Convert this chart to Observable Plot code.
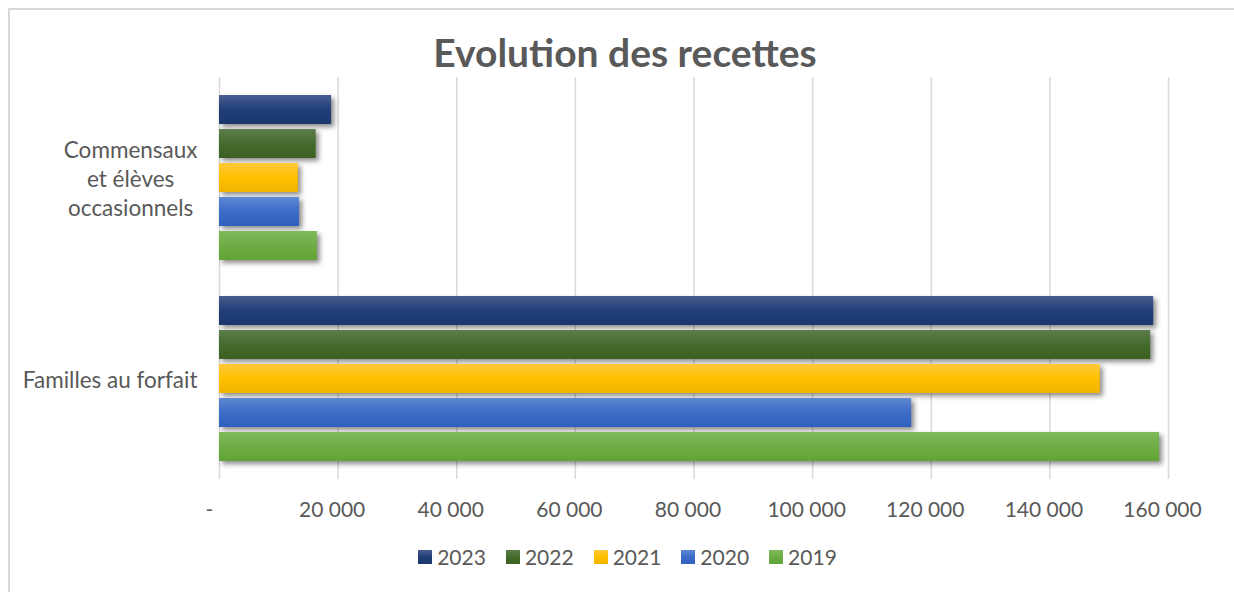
<!DOCTYPE html>
<html>
<head>
<meta charset="utf-8">
<script src="https://cdn.jsdelivr.net/npm/d3@7"></script>
<script src="https://cdn.jsdelivr.net/npm/@observablehq/plot@0.6"></script>
<style>
  html, body { margin: 0; padding: 0; background: #fff; overflow: hidden; width: 1234px; height: 592px; }
  body { font-family: Lato, "Open Sans", sans-serif; color: #595959; position: relative; }
  #frame { position: absolute; left: 8px; top: 8px; width: 1400px; height: 800px; border-left: 2px solid #d9d9d9; border-top: 2px solid #d9d9d9; box-sizing: border-box; pointer-events: none; }
  #title { box-sizing: border-box; height: 70px; padding-top: 34px; padding-left: 16px; text-align: center; font-size: 39px; line-height: 36px; font-weight: bold; color: #595959; white-space: nowrap; }
  #chart { height: 462px; }
  #chart svg { display: block; }
  #legend { box-sizing: border-box; height: 50px; padding-left: 21px; display: flex; justify-content: center; align-items: center; }
  .item { display: flex; align-items: center; margin: 0 10px; font-size: 21px; line-height: 24px; }
  .sw { width: 14px; height: 14px; margin-right: 5px; }
</style>
</head>
<body>
<div id="frame"></div>
<div id="title">Evolution des recettes</div>
<div id="chart"></div>
<div id="legend"></div>
<script>
// ---- data ----
const categories = ["Commensaux\net élèves\noccasionnels", "Familles au forfait"];
const years = ["2023", "2022", "2021", "2020", "2019"];
const commensaux = [18900, 16300, 13300, 13500, 16500];
const familles = [157500, 157000, 148500, 116700, 158500];
const xTicks = [0, 20000, 40000, 60000, 80000, 100000, 120000, 140000, 160000];
const gradients = {
  "2023": ["#4a5d90", "#203f78", "#1b376c"],
  "2022": ["#5e7d4c", "#446b2c", "#3c6022"],
  "2021": ["#ffc83a", "#ffc000", "#f0b400"],
  "2020": ["#5f88d4", "#3c6cc6", "#2f60bd"],
  "2019": ["#80ba5c", "#6dad43", "#62a338"]
};

const data = [];
years.forEach((y, i) => {
  data.push({cat: categories[0], year: y, value: commensaux[i]});
  data.push({cat: categories[1], year: y, value: familles[i]});
});

const fmt = d => d === 0 ? "-" : d3.format(",")(d).replace(/,/g, " ");
const axisStyle = {tickFormat: fmt, tickSize: 0, tickPadding: 23, fontSize: 21, fill: "#595959", label: null};

const plot = Plot.plot({
  width: 1234,
  height: 462,
  marginLeft: 219,
  marginRight: 66,
  marginTop: 6,
  marginBottom: 53,
  style: {fontFamily: "Lato, 'Open Sans', sans-serif", fontSize: "21px", color: "#595959", background: "transparent"},
  x: {domain: [0, 160000], axis: null},
  y: {domain: years, paddingInner: 0.138, paddingOuter: 0.461, axis: null},
  fy: {domain: categories, padding: 0, axis: null},
  color: {type: "ordinal", domain: years, range: years.map(y => `url(#g${y})`)},
  marks: [
    Plot.gridX(xTicks, {stroke: "#d9d9d9", strokeOpacity: 1, strokeWidth: 1.5}),
    Plot.barX(data, {x: "value", y: "year", fy: "cat", fill: "year"}),
    Plot.axisX({...axisStyle, ticks: xTicks.slice(0, 1), dx: -10}),
    Plot.axisX({...axisStyle, ticks: xTicks.slice(1), dx: -6}),
    Plot.axisFy({anchor: "left", tickSize: 0, tickPadding: 22, fontSize: 22.5, fill: "#595959", lineHeight: 1.29, label: null})
  ]
});
document.getElementById("chart").appendChild(plot);

// gradients
const svg = d3.select(plot);
const defs = svg.insert("defs", ":first-child");
years.forEach(y => {
  const g = defs.append("linearGradient").attr("id", "g" + y).attr("x1", 0).attr("y1", 0).attr("x2", 0).attr("y2", 1);
  const c = gradients[y];
  g.append("stop").attr("offset", "0%").attr("stop-color", c[0]);
  g.append("stop").attr("offset", "50%").attr("stop-color", c[1]);
  g.append("stop").attr("offset", "100%").attr("stop-color", c[2]);
});
svg.selectAll('g[aria-label="bar"]').style("filter", "drop-shadow(3px 3px 2.5px rgba(0,0,0,0.45))");

// center multi-line category labels (Excel style)
svg.selectAll('g[aria-label="fy-axis tick label"] text').each(function() {
  const t = d3.select(this);
  const b1 = this.getBBox();
  const c1 = b1.x + b1.width / 2;
  t.style("text-anchor", "middle");
  t.selectAll("tspan").style("text-anchor", "middle");
  const b2 = this.getBBox();
  const c2 = b2.x + b2.width / 2;
  const tr = t.attr("transform") || "";
  t.attr("transform", tr + ` translate(${c1 - c2},0)`);
});

// legend
const legend = d3.select("#legend");
years.forEach(y => {
  const it = legend.append("div").attr("class", "item");
  const c = gradients[y];
  it.append("div").attr("class", "sw").style("background", `linear-gradient(${c[0]}, ${c[1]}, ${c[2]})`);
  it.append("span").text(y);
});
</script>
</body>
</html>
